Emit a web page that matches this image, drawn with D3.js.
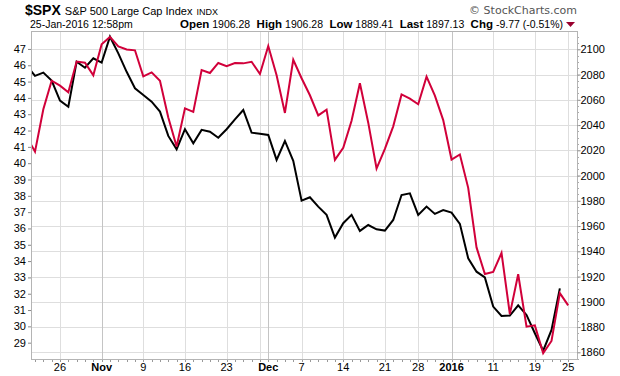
<!DOCTYPE html>
<html>
<head>
<meta charset="utf-8">
<script src="https://cdn.jsdelivr.net/npm/d3@7"></script>
<style>
  body { margin: 0; background: #fff; }
  svg { font-family: "Liberation Sans", Arial, sans-serif; }
</style>
</head>
<body>
<svg width="620" height="376"></svg>
<script>
// trading days shown on the chart
const dates = [
  "2015-10-20","2015-10-21","2015-10-22","2015-10-23","2015-10-26","2015-10-27","2015-10-28","2015-10-29","2015-10-30",
  "2015-11-02","2015-11-03","2015-11-04","2015-11-05","2015-11-06","2015-11-09","2015-11-10","2015-11-11","2015-11-12","2015-11-13",
  "2015-11-16","2015-11-17","2015-11-18","2015-11-19","2015-11-20","2015-11-23","2015-11-24","2015-11-25","2015-11-27","2015-11-30",
  "2015-12-01","2015-12-02","2015-12-03","2015-12-04","2015-12-07","2015-12-08","2015-12-09","2015-12-10","2015-12-11",
  "2015-12-14","2015-12-15","2015-12-16","2015-12-17","2015-12-18","2015-12-21","2015-12-22","2015-12-23","2015-12-24",
  "2015-12-28","2015-12-29","2015-12-30","2015-12-31","2016-01-04","2016-01-05","2016-01-06","2016-01-07","2016-01-08",
  "2016-01-11","2016-01-12","2016-01-13","2016-01-14","2016-01-15","2016-01-19","2016-01-20","2016-01-21","2016-01-22","2016-01-25"
];

// $SPX close (right axis, red)
const spx = [
  2030.77, 2018.94, 2052.51, 2075.15, 2071.18, 2065.89, 2090.35, 2089.41, 2079.36,
  2104.05, 2109.79, 2102.31, 2099.93, 2099.20, 2078.58, 2081.72, 2075.00, 2045.97, 2023.04,
  2053.19, 2050.44, 2083.58, 2081.24, 2089.17, 2086.59, 2089.14, 2088.87, 2090.11, 2080.41,
  2102.63, 2079.51, 2049.62, 2091.69, 2077.07, 2063.59, 2047.62, 2052.23, 2012.37,
  2021.94, 2043.41, 2073.07, 2041.89, 2005.55, 2021.15, 2038.97, 2064.29, 2060.99,
  2056.50, 2078.36, 2063.36, 2043.94, 2012.66, 2016.71, 1990.26, 1943.09, 1922.03,
  1923.67, 1938.68, 1890.28, 1921.84, 1880.33, 1881.33, 1859.33, 1868.99, 1906.90, 1897.13
];

// comparison line (left axis, black) - no value yet for the last day
const other = [
  46.0, 45.35, 45.55, 45.06, 43.83, 43.46, 46.22, 45.85, 46.43,
  46.16, 47.75, 46.73, 45.6, 44.59, 44.18, 43.77, 43.16, 41.67, 40.85,
  42.08, 41.22, 42.04, 41.93, 41.56, 42.08, 42.69, 43.26, 41.87, 41.81,
  41.73, 40.2, 41.36, 40.14, 37.7, 37.91, 37.34, 36.83, 35.44,
  36.32, 36.83, 35.85, 36.21, 35.95, 35.87, 36.52, 38.05, 38.15,
  36.83, 37.34, 36.89, 37.13, 36.97, 36.28, 34.17, 33.35, 33.0,
  31.21, 30.64, 30.66, 31.29, 30.7, 29.58, 28.51, 29.78, 32.33, null
];

const tickDates = ["2015-10-26","2015-11-02","2015-11-09","2015-11-16","2015-11-23","2015-11-30","2015-12-01",
  "2015-12-07","2015-12-14","2015-12-21","2015-12-28","2016-01-04","2016-01-11","2016-01-19","2016-01-25"];
const tickLabels = ["26","Nov","9","16","23","","Dec","7","14","21","28","2016","11","19","25"];
const monthTicks = ["Nov","Dec","2016"];

const leftTicks = d3.range(29, 48);
const rightTicks = d3.range(1860, 2101, 20);

const svg = d3.select('svg');
const L = 31, R = 577, T = 31, B = 359;

const x = d3.scaleLinear().domain([0.52, 66.06]).range([L, R]);
const yLeft = d3.scaleLinear().domain([28.0, 48.1]).range([B, T]);
const yRight = d3.scaleLinear().domain([1854.7, 2114.5]).range([B, T]);
const xi = (d) => x(dates.indexOf(d));

// horizontal grid (right axis ticks)
svg.append('g')
  .selectAll('line')
  .data(rightTicks)
  .join('line')
  .attr('x1', L).attr('x2', R)
  .attr('y1', (d) => Math.round(yRight(d)) + 0.5)
  .attr('y2', (d) => Math.round(yRight(d)) + 0.5)
  .attr('stroke', '#dedede');

// vertical grid
svg.append('g')
  .selectAll('line')
  .data(tickDates)
  .join('line')
  .attr('x1', (d) => Math.round(xi(d)) + 0.5)
  .attr('x2', (d) => Math.round(xi(d)) + 0.5)
  .attr('y1', T).attr('y2', B)
  .attr('stroke', (d, i) => monthTicks.includes(tickLabels[i]) ? '#c4c4c4' : '#dedede');

// frame
svg.append('rect')
  .attr('x', L + 0.5).attr('y', T + 0.5)
  .attr('width', R - L).attr('height', B - T)
  .attr('fill', 'none').attr('stroke', '#b4b4b4');

// minor x ticks, one per trading day
svg.append('g')
  .selectAll('line')
  .data(dates)
  .join('line')
  .attr('x1', (d) => Math.round(xi(d)) + 0.5)
  .attr('x2', (d) => Math.round(xi(d)) + 0.5)
  .attr('y1', B + 1).attr('y2', B + 3)
  .attr('stroke', '#999')
  .attr('display', (d) => xi(d) < L || xi(d) > R ? 'none' : null);

// x labels
svg.append('g')
  .selectAll('text')
  .data(tickDates)
  .join('text')
  .attr('x', (d) => xi(d))
  .attr('y', 371)
  .attr('text-anchor', 'middle')
  .attr('font-size', 11)
  .attr('font-weight', (d, i) => monthTicks.includes(tickLabels[i]) ? 'bold' : null)
  .text((d, i) => tickLabels[i]);

// left axis
const axL = svg.append('g')
  .attr('transform', `translate(${L},0)`)
  .call(d3.axisLeft(yLeft).tickValues(leftTicks).tickSize(3).tickPadding(2).tickFormat(d3.format('d')));
axL.select('.domain').remove();
axL.selectAll('line').attr('stroke', '#888');
axL.selectAll('text').attr('font-size', 11).attr('font-family', null).attr('fill', '#000');

// right axis
const axR = svg.append('g')
  .attr('transform', `translate(${R + 0.5},0)`)
  .call(d3.axisRight(yRight).tickValues(rightTicks).tickSize(3).tickPadding(0).tickFormat(d3.format('d')));
axR.select('.domain').remove();
axR.selectAll('line').attr('stroke', '#888');
axR.selectAll('text').attr('font-size', 11).attr('font-family', null).attr('fill', '#000');

// minor right ticks
svg.append('g')
  .selectAll('line')
  .data(d3.range(1855, 2115, 5))
  .join('line')
  .attr('x1', R + 1).attr('x2', R + 2)
  .attr('y1', (d) => Math.round(yRight(d)) + 0.5)
  .attr('y2', (d) => Math.round(yRight(d)) + 0.5)
  .attr('stroke', '#aaa');

// lines
svg.append('clipPath').attr('id', 'plot')
  .append('rect').attr('x', L + 1).attr('y', T + 1).attr('width', R - L - 1).attr('height', B - T - 1);

const plot = svg.append('g').attr('clip-path', 'url(#plot)');

plot.append('path')
  .datum(dates.map((d, i) => [i, other[i]]).filter((p) => p[1] != null))
  .attr('fill', 'none')
  .attr('stroke', '#000')
  .attr('stroke-width', 2)
  .attr('d', d3.line().x((p) => x(p[0])).y((p) => yLeft(p[1])));

plot.append('path')
  .datum(dates.map((d, i) => [i, spx[i]]))
  .attr('fill', 'none')
  .attr('stroke', '#d1003a')
  .attr('stroke-width', 2)
  .attr('d', d3.line().x((p) => x(p[0])).y((p) => yRight(p[1])));

// header
const h1 = svg.append('text').attr('x', 25).attr('y', 15);
h1.append('tspan').attr('font-size', 14).attr('font-weight', 'bold').text('$SPX');
h1.append('tspan').attr('font-size', 11).attr('dx', 4).text('S&P 500 Large Cap Index');
h1.append('tspan').attr('font-size', 9).attr('dx', 4).text('INDX');

svg.append('text').attr('x', 30).attr('y', 28).attr('font-size', 10.5).text('25-Jan-2016 12:58pm');

const h2 = svg.append('text').attr('x', 563).attr('y', 28).attr('text-anchor', 'end').attr('font-size', 10.5);
const parts = [['Open', '1906.28'], ['High', '1906.28'], ['Low', '1889.41'], ['Last', '1897.13'], ['Chg', '-9.77 (-0.51%)']];
parts.forEach((p, i) => {
  h2.append('tspan').attr('font-weight', 'bold').attr('font-size', 11.5).text((i ? '  ' : '') + p[0]);
  h2.append('tspan').text(' ' + p[1]);
});
h2.attr('xml:space', 'preserve');

svg.append('path')
  .attr('d', 'M566,22L575,22L570.5,27Z')
  .attr('fill', '#99002e');

svg.append('text')
  .attr('x', 577).attr('y', 14)
  .attr('text-anchor', 'end')
  .attr('font-size', 11)
  .attr('fill', '#555')
  .attr('font-family', 'DejaVu Sans, sans-serif')
  .text('© StockCharts.com');
</script>
</body>
</html>
